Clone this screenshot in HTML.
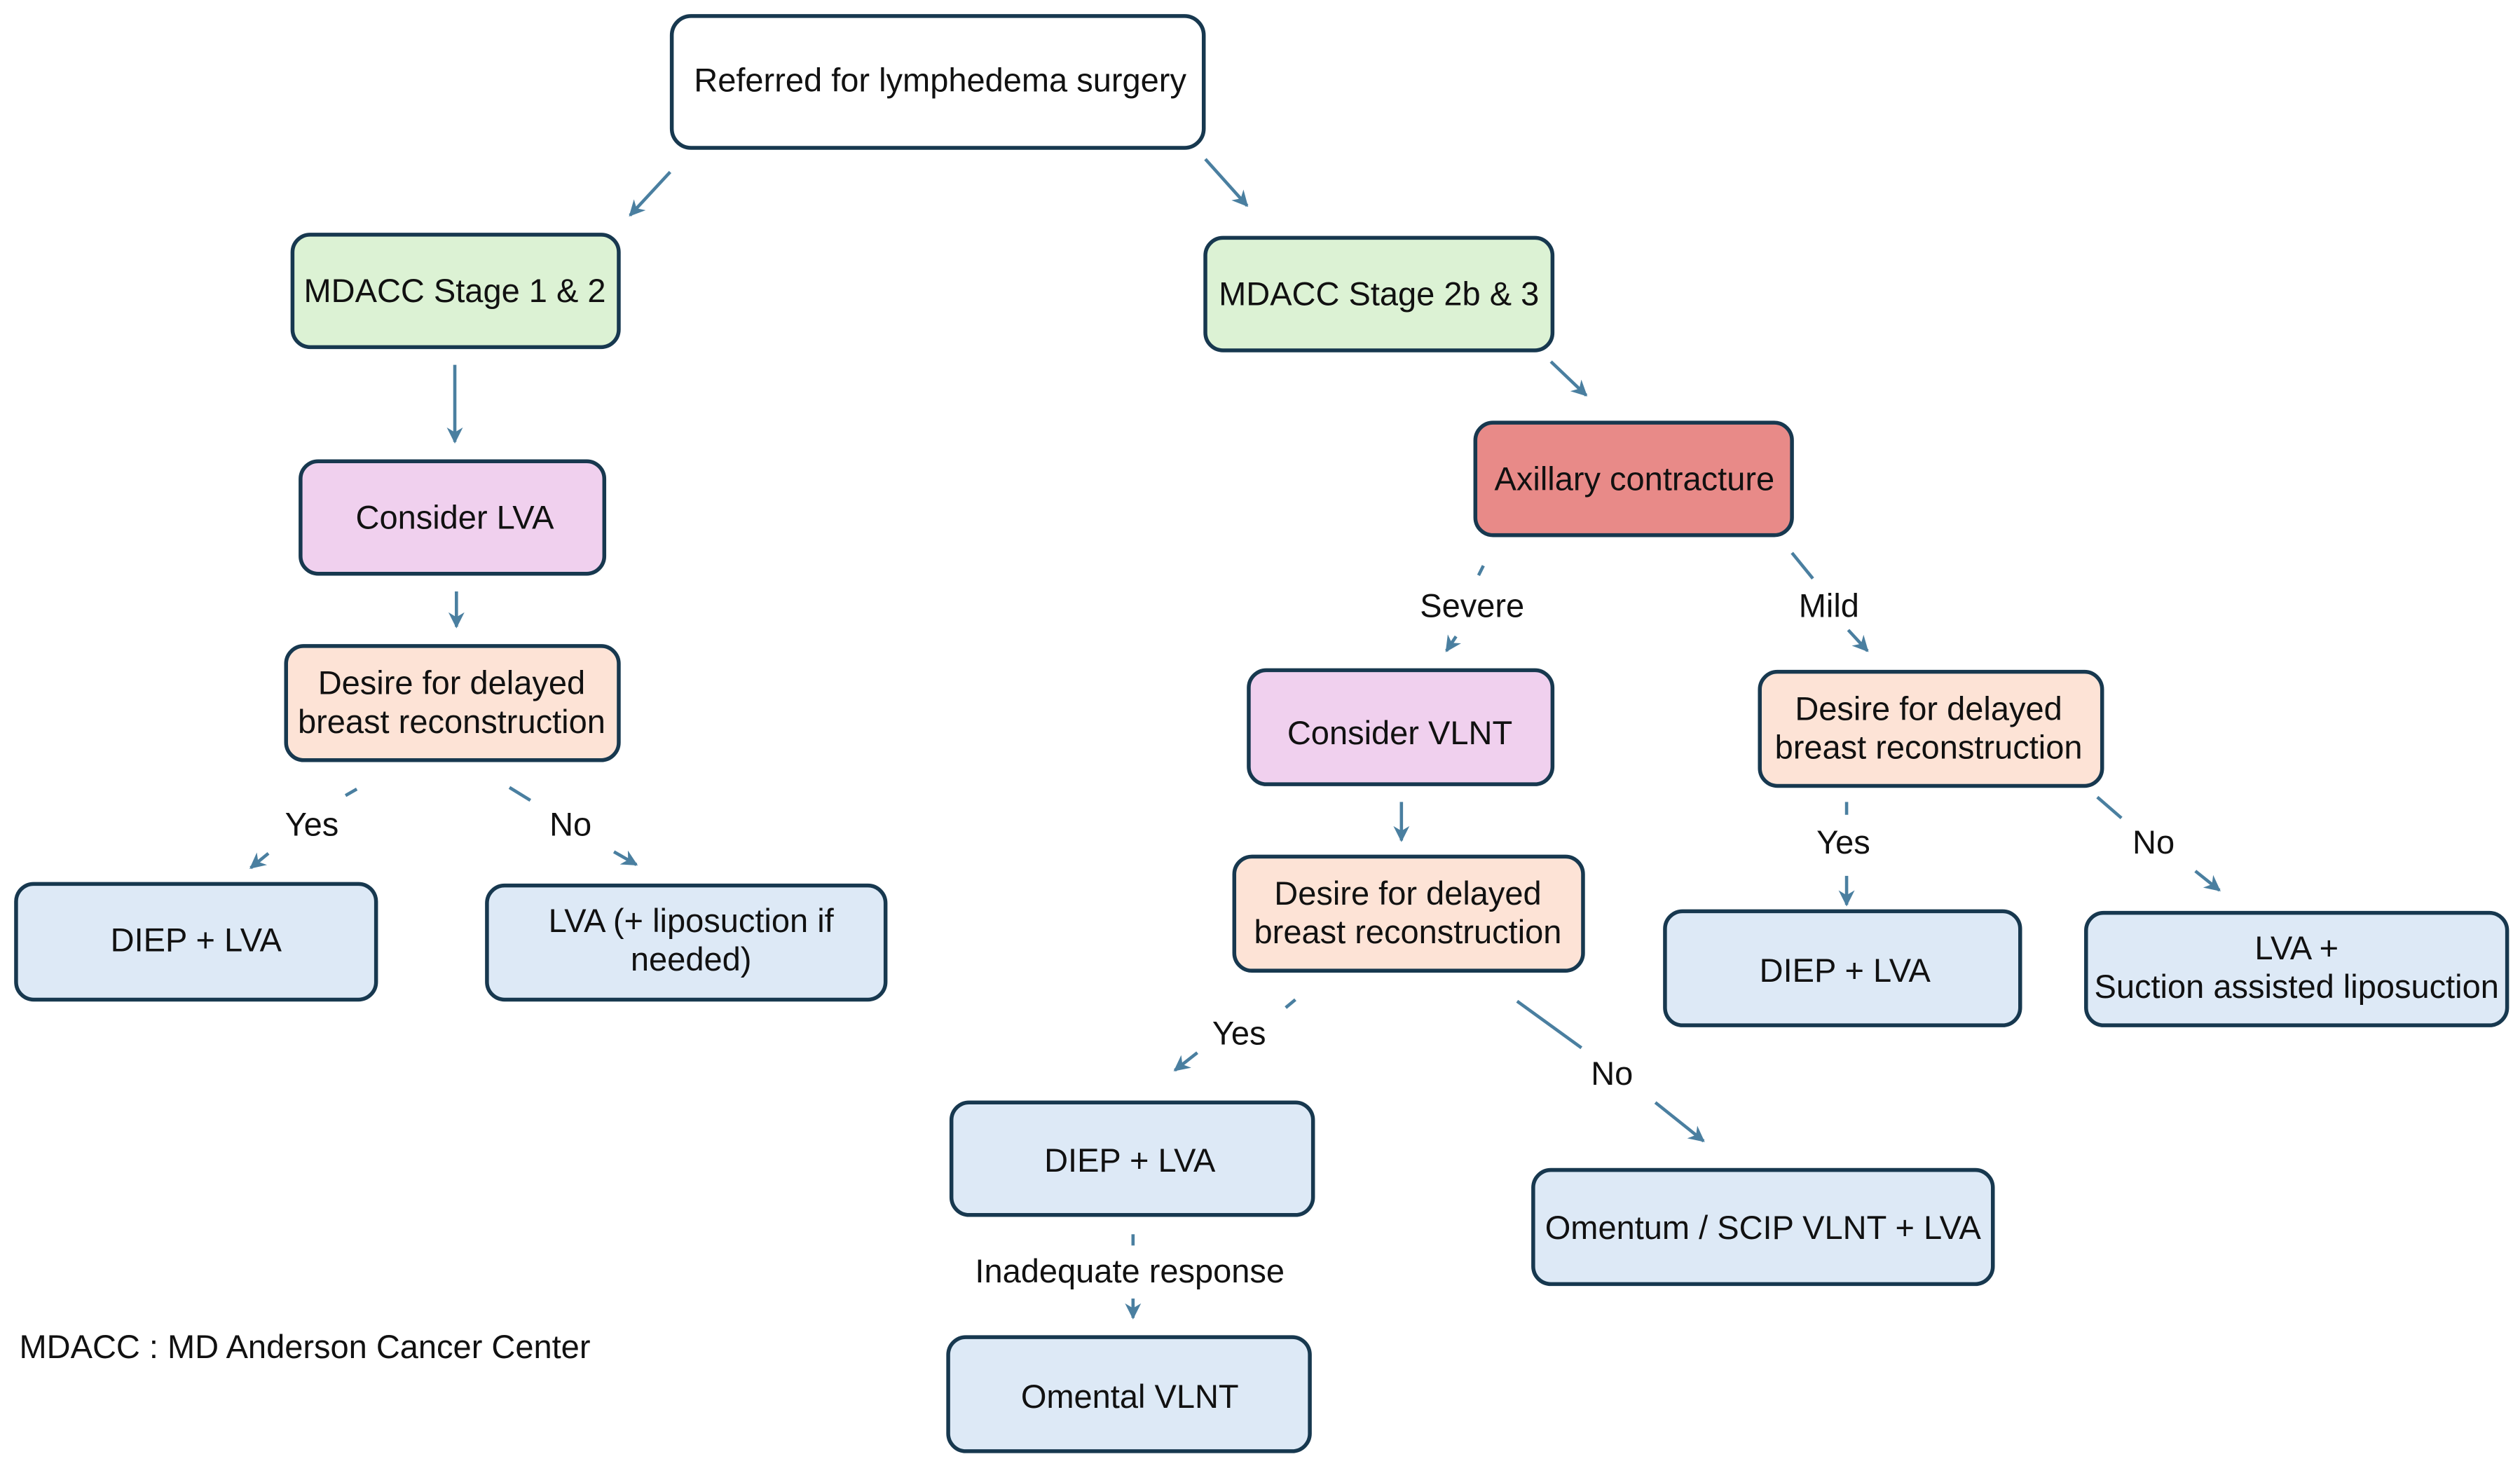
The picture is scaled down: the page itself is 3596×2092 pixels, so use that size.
<!DOCTYPE html>
<html><head><meta charset="utf-8"><style>html,body{margin:0;padding:0;background:#fff}svg{display:block}</style></head><body>
<svg width="3596" height="2092" viewBox="0 0 1568 912.2" xmlns="http://www.w3.org/2000/svg" font-family="Liberation Sans, sans-serif" font-size="20.5" text-anchor="middle">
<defs><marker id="a" viewBox="0 0 10 10" refX="9" refY="5" markerWidth="5" markerHeight="5" orient="auto"><path d="M0,0 L10,5 L0,10 L3,5 z" fill="#4a7fa0"/></marker></defs>
<g fill="none" stroke="#17384f" stroke-width="2.4">
<rect x="418" y="10" width="331" height="82" rx="12" fill="#fff"/>
<rect x="182" y="146" width="203" height="70" rx="11" fill="#dcf2d4"/>
<rect x="750" y="148" width="216" height="70" rx="11" fill="#dcf2d4"/>
<rect x="918" y="263" width="197" height="70" rx="11" fill="#e88a88"/>
<rect x="187" y="287" width="189" height="70" rx="11" fill="#f0d0ee"/>
<rect x="178" y="402" width="207" height="71" rx="11" fill="#fde3d6"/>
<rect x="10" y="550" width="224" height="72" rx="11" fill="#dde9f6"/>
<rect x="303" y="551" width="248" height="71" rx="11" fill="#dde9f6"/>
<rect x="777" y="417" width="189" height="71" rx="11" fill="#f0d0ee"/>
<rect x="768" y="533" width="217" height="71" rx="11" fill="#fde3d6"/>
<rect x="1095" y="418" width="213" height="71" rx="11" fill="#fde3d6"/>
<rect x="1036" y="567" width="221" height="71" rx="11" fill="#dde9f6"/>
<rect x="1298" y="568" width="262" height="70" rx="11" fill="#dde9f6"/>
<rect x="592" y="686" width="225" height="70" rx="11" fill="#dde9f6"/>
<rect x="954" y="728" width="286" height="71" rx="11" fill="#dde9f6"/>
<rect x="590" y="832" width="225" height="71" rx="11" fill="#dde9f6"/>
</g>
<g stroke="#4a7fa0" stroke-width="2" fill="none">
<line x1="417" y1="107" x2="392" y2="134" marker-end="url(#a)"/>
<line x1="750" y1="99" x2="776" y2="128" marker-end="url(#a)"/>
<line x1="283" y1="227" x2="283" y2="275" marker-end="url(#a)"/>
<line x1="284" y1="368" x2="284" y2="390" marker-end="url(#a)"/>
<line x1="965" y1="225" x2="987" y2="246" marker-end="url(#a)"/>
<line x1="923" y1="352" x2="920" y2="358"/>
<line x1="906" y1="396" x2="900" y2="405" marker-end="url(#a)"/>
<line x1="1115" y1="344" x2="1128" y2="360"/>
<line x1="1150" y1="392" x2="1162" y2="405" marker-end="url(#a)"/>
<line x1="222" y1="491" x2="215" y2="495"/>
<line x1="167" y1="531" x2="156" y2="540" marker-end="url(#a)"/>
<line x1="317" y1="490" x2="330" y2="498"/>
<line x1="382" y1="530" x2="396" y2="538" marker-end="url(#a)"/>
<line x1="872" y1="499" x2="872" y2="523" marker-end="url(#a)"/>
<line x1="806" y1="622" x2="800" y2="627"/>
<line x1="745" y1="655" x2="731" y2="666" marker-end="url(#a)"/>
<line x1="944" y1="623" x2="984" y2="652"/>
<line x1="1030" y1="686" x2="1060" y2="710" marker-end="url(#a)"/>
<line x1="1149" y1="499" x2="1149" y2="507"/>
<line x1="1149" y1="545" x2="1149" y2="563" marker-end="url(#a)"/>
<line x1="1305" y1="496" x2="1320" y2="509"/>
<line x1="1366" y1="542" x2="1381" y2="554" marker-end="url(#a)"/>
<line x1="705" y1="768" x2="705" y2="775"/>
<line x1="705" y1="808" x2="705" y2="820" marker-end="url(#a)"/>
</g>
<g fill="#111">
<text x="585" y="57">Referred for lymphedema surgery</text>
<text x="283" y="188">MDACC Stage 1 &amp; 2</text>
<text x="858" y="190">MDACC Stage 2b &amp; 3</text>
<text x="1017" y="305">Axillary contracture</text>
<text x="283" y="329">Consider LVA</text>
<text x="281" y="432">Desire for delayed</text>
<text x="281" y="456">breast reconstruction</text>
<text x="122" y="592">DIEP + LVA</text>
<text x="430" y="580">LVA (+ liposuction if</text>
<text x="430" y="604">needed)</text>
<text x="871" y="463">Consider VLNT</text>
<text x="876" y="563">Desire for delayed</text>
<text x="876" y="587">breast reconstruction</text>
<text x="1200" y="448">Desire for delayed</text>
<text x="1200" y="472">breast reconstruction</text>
<text x="1148" y="611">DIEP + LVA</text>
<text x="1429" y="597">LVA +</text>
<text x="1429" y="621">Suction assisted liposuction</text>
<text x="703" y="729">DIEP + LVA</text>
<text x="1097" y="771">Omentum / SCIP VLNT + LVA</text>
<text x="703" y="876">Omental VLNT</text>
<text x="916" y="384">Severe</text>
<text x="1138" y="384">Mild</text>
<text x="194" y="520">Yes</text>
<text x="355" y="520">No</text>
<text x="771" y="650">Yes</text>
<text x="1003" y="675">No</text>
<text x="1147" y="531">Yes</text>
<text x="1340" y="531">No</text>
<text x="703" y="798">Inadequate response</text>
<text x="12" y="845" text-anchor="start">MDACC : MD Anderson Cancer Center</text>
</g>
</svg>
</body></html>
